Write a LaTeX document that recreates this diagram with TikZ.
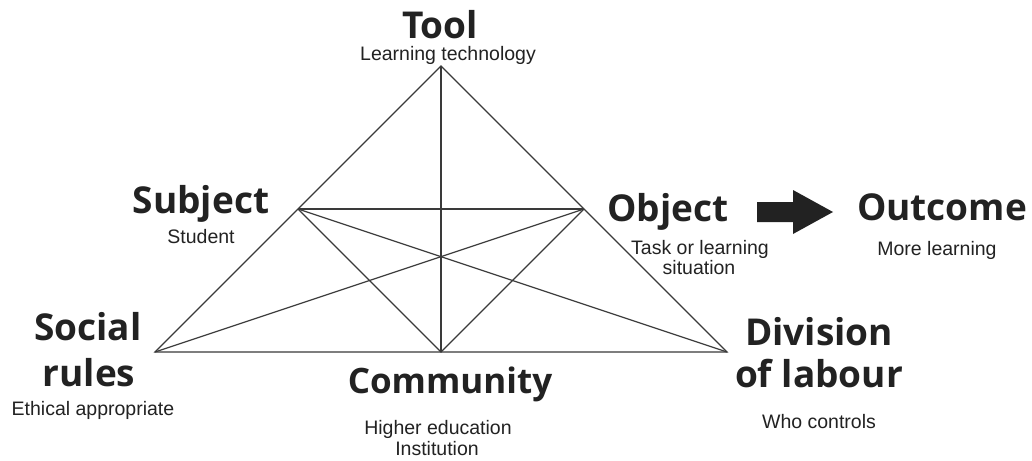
\documentclass[tikz,border=0pt]{standalone}
\usepackage{fontspec}
\setmainfont{Liberation Sans}
\newfontfamily\headfont{Open Sans}
\definecolor{ink}{HTML}{222222}
\definecolor{edge}{HTML}{3A3A3A}
\begin{document}
\begin{tikzpicture}[x=1pt,y=-1pt,
    head/.style={anchor=base,inner sep=0pt,text=ink,font=\headfont\bfseries\fontsize{37}{42}\selectfont},
    sub/.style={anchor=base,inner sep=0pt,text=ink,font=\fontsize{19.5}{23}\selectfont},
    link/.style={edge,line width=1.2pt}]
    \useasboundingbox[fill=white] (0,0) rectangle (1032,460);
    % corners of the triangle
    \coordinate (tool) at (441,66);
    \coordinate (subject) at (298,209);
    \coordinate (object) at (584,209);
    \coordinate (rules) at (155,352);
    \coordinate (community) at (441,352);
    \coordinate (labour) at (727,352);
    \draw[link,line join=miter] (tool) -- (rules) -- (labour) -- cycle;
    \draw[link] (tool) -- (community);
    \draw[link] (subject) -- (object);
    \draw[link] (subject) -- (community) -- (object);
    \draw[link] (subject) -- (labour);
    \draw[link] (object) -- (rules);
    % labels
    \node[head] (toolT) at (440,38) {Tool};
    \node[sub] (toolS) at (448,60) {Learning technology};
    \node[head] (subjT) at (201,213) {Subject};
    \node[sub] (subjS) at (201,243) {Student};
    \node[head] (objT) at (668,221) {Object};
    \node[sub] (objS1) at (700,254) {Task or learning};
    \node[sub] (objS2) at (699,274) {situation};
    \node[head] (outT) at (942,220) {Outcome};
    \node[sub] (outS) at (937,255) {More learning};
    \node[head] (rulT1) at (88,340) {Social};
    \node[head] (rulT2) at (89,386) {rules};
    \node[sub] (rulS) at (93,415) {Ethical appropriate};
    \node[head,font=\headfont\bfseries\fontsize{35}{40}\selectfont] (comT) at (450,393) {Community};
    \node[sub] (comS1) at (438,434) {Higher education};
    \node[sub] (comS2) at (437,455) {Institution};
    \node[head] (labT1) at (819,345) {Division};
    \node[head] (labT2) at (819,387) {of labour};
    \node[sub] (labS) at (819,428) {Who controls};
    % block arrow towards the outcome
    \coordinate (arrL) at (757,212);
    \coordinate (arrR) at (833,212);
    \fill[ink] ([yshift=-10pt]arrL) -- ([xshift=-40pt,yshift=-10pt]arrR) -- ([xshift=-40pt,yshift=-22pt]arrR)
        -- (arrR) -- ([xshift=-40pt,yshift=22pt]arrR) -- ([xshift=-40pt,yshift=10pt]arrR) -- ([yshift=10pt]arrL) -- cycle;
\end{tikzpicture}
\end{document}
